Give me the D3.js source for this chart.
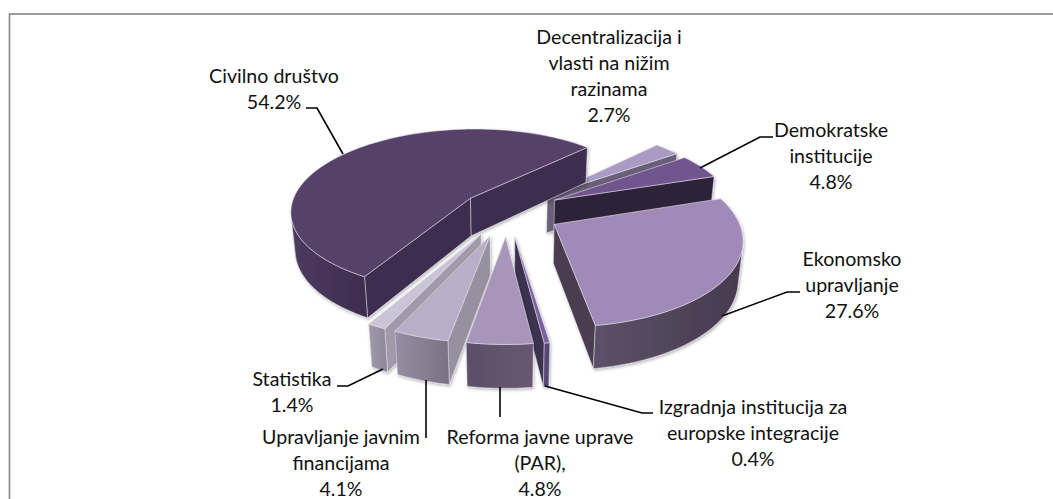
<!DOCTYPE html>
<html><head><meta charset="utf-8">
<script src="https://cdn.jsdelivr.net/npm/d3@7/dist/d3.min.js"></script>
<style>html,body{margin:0;padding:0;background:#fff;overflow:hidden}svg{display:block}text{font-family:Lato,"Open Sans",sans-serif;font-size:19.6px;fill:#111}</style>
</head><body><div id="chart"></div>
<script>
// Data, clockwise from the first slice
const categories = ["Decentralizacija i vlasti na nižim razinama","Demokratske institucije","Ekonomsko upravljanje","Izgradnja institucija za europske integracije","Reforma javne uprave (PAR),","Upravljanje javnim financijama","Statistika","Civilno društvo"];
const shares = [2.7,4.8,27.6,0.4,4.8,4.1,1.4,54.2];
const explosion = [0.30,0.30,0.30,0.30,0.30,0.30,0.30,0.26];
const labelLines = [
  ["Decentralizacija i","vlasti na nižim","razinama","2.7%"],
  ["Demokratske","institucije","4.8%"],
  ["Ekonomsko","upravljanje","27.6%"],
  ["Izgradnja institucija za","europske integracije","0.4%"],
  ["Reforma javne uprave","(PAR),","4.8%"],
  ["Upravljanje javnim","financijama","4.1%"],
  ["Statistika","1.4%"],
  ["Civilno društvo","54.2%"]];
const topColors  = ["#ab9ac3","#70548f","#a08ab8","#7a62a0","#a796ba","#b8aec8","#cac5d6","#574269"];
const wallColors = ["#6a5f78","#2d2239","#483c4f","#3c3050","#97909f","#97909f","#a09bab","#3e2d4f"];
const rimLeft    = ["#7a6f88","#2d2239","#5c5068","#574a74","#5a4e68","#958fa3","#a09bab","#4d3b60"];
const rimRight   = ["#6a5f78","#2d2239","#463a4e","#574a74","#66596f","#7a7285","#8f8a9b","#3e2d4f"];

// Label layout: text centre, first baseline, and leader line
const labelPos = [[609,44],[831,137],[852,266],[753,414],[540,444],[341,444],[292,386],[274,83]];
const leaders = [
  null,
  [[773,137],[760,137],[700,168]],
  [[800,292],[787,292],[722,316]],
  [[653,413],[642,413],[545,386]],
  [[500,387],[500,417]],
  [[426,380],[426,438]],
  [[337,386],[348,386],[383,369]],
  [[306,108],[317,108],[343,154]]];

const W=1053,H=499;
const svg=d3.select("#chart").append("svg").attr("width",W).attr("height",H);
const defs=svg.append("defs");
const f=defs.append("filter").attr("id","sh").attr("x","-20%").attr("y","-20%").attr("width","140%").attr("height","140%");
f.append("feDropShadow").attr("dx",1).attr("dy",1.5).attr("stdDeviation",1.6).attr("flood-color","#000").attr("flood-opacity",0.3);

// Frame: only the left and top edges fall inside the picture
svg.append("rect").attr("x",9.5).attr("y",14).attr("width",1100).attr("height",560).attr("fill","#fff").attr("stroke","#868686").attr("stroke-width",1.6);

// Projection of the pie plane
const O={x:507,y:211}, S=181, C=0.458, P=0.148, D=39, Q=0.02, R=1.0;
function proj(X,Y,low){
  const w=1+P*Y+(low?Q:0);
  return [O.x+S*X/w, O.y+(-S*C*Y+(low?D:0))/w];
}
const rad=d3.scaleLinear().domain([0,1]).range([0,R]);
const pie=d3.pie().value(d=>d).sort(null).startAngle(45*Math.PI/180).endAngle(405*Math.PI/180);
const arcs=pie(shares);

function area(q){let a=0;for(let i=0;i<q.length;i++){const p=q[i],n=q[(i+1)%q.length];a+=p[0]*n[1]-n[0]*p[1];}return a;}
const line=d3.line();
const order=arcs.map((a,i)=>{
  const b=(a.startAngle+a.endAngle)/2;
  return {a,i,b,ax:explosion[i]*Math.sin(b),ay:explosion[i]*Math.cos(b)};
}).sort((p,q)=>q.ay-p.ay);

const g=svg.append("g");
order.forEach(s=>{
  const {a,i,ax,ay}=s;
  const n=Math.max(3,Math.ceil((a.endAngle-a.startAngle)/0.02));
  const thetas=d3.range(n+1).map(k=>a.startAngle+(a.endAngle-a.startAngle)*k/n);
  const pt=(t)=>[ax+rad(1)*Math.sin(t),ay+rad(1)*Math.cos(t)];
  const rimT=thetas.map(t=>proj(...pt(t),false));
  const rimB=thetas.map(t=>proj(...pt(t),true));
  const apT=proj(ax,ay,false), apB=proj(ax,ay,true);
  const sg=g.append("g").attr("filter","url(#sh)");
  const stroke="#e6e2ec";
  // radial walls
  [[apT,rimT[0],rimB[0],apB],[rimT[n],apT,apB,rimB[n]]].forEach(q=>{
    if(area(q)<0) sg.append("path").attr("d",line(q)+"Z").attr("fill",wallColors[i]).attr("stroke",stroke).attr("stroke-width",0.7).attr("stroke-opacity",0.7);
  });
  // outer wall, only the part facing the viewer
  const vis=[];
  for(let k=0;k<n;k++){ if(area([rimT[k],rimT[k+1],rimB[k+1],rimB[k]])<0) vis.push(k); }
  if(vis.length){
    const k0=vis[0],k1=vis[vis.length-1]+1;
    const up=rimT.slice(k0,k1+1), lo=rimB.slice(k0,k1+1).reverse();
    const xs=up.map(p=>p[0]);
    const id="rim"+i;
    const lg=defs.append("linearGradient").attr("id",id).attr("gradientUnits","userSpaceOnUse")
      .attr("x1",d3.min(xs)).attr("x2",d3.max(xs)).attr("y1",0).attr("y2",0);
    lg.append("stop").attr("offset","0%").attr("stop-color",rimLeft[i]);
    lg.append("stop").attr("offset","100%").attr("stop-color",rimRight[i]);
    sg.append("path").attr("d",line(up.concat(lo))+"Z").attr("fill",`url(#${id})`).attr("stroke",stroke).attr("stroke-width",0.7).attr("stroke-opacity",0.7);
  }
  // top
  sg.append("path").attr("d",line([apT].concat(rimT))+"Z").attr("fill",topColors[i]).attr("stroke",stroke).attr("stroke-width",0.8).attr("stroke-opacity",0.7).attr("stroke-linejoin","round");
});

// labels
labelLines.forEach((ls,i)=>{
  const t=svg.append("text").attr("text-anchor","middle").attr("x",labelPos[i][0]).attr("y",labelPos[i][1]);
  ls.forEach((l,j)=>t.append("tspan").attr("x",labelPos[i][0]).attr("dy",j?26:0).text(l));
  if(leaders[i]) svg.append("path").attr("d",line(leaders[i])).attr("fill","none").attr("stroke","#000").attr("stroke-width",1.6);
});
</script></body></html>
